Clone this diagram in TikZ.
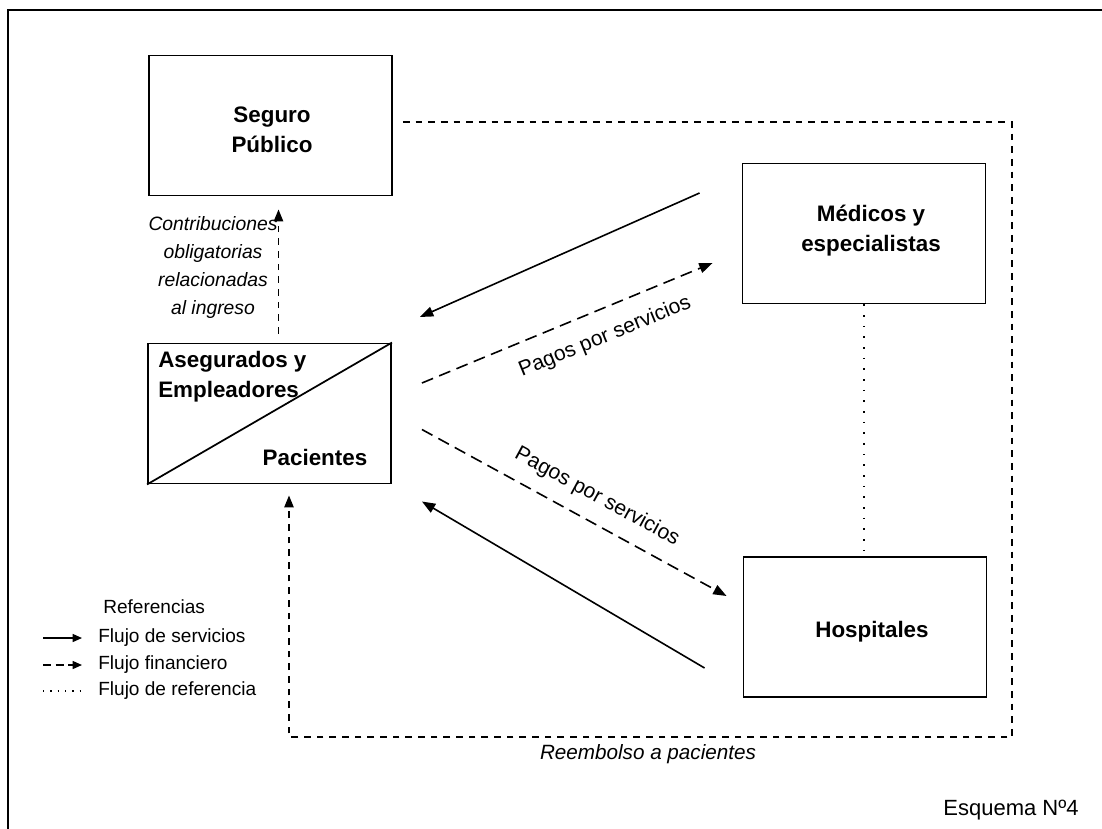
\documentclass[tikz,border=0pt]{standalone}
\usepackage{fontspec}
\setmainfont{Liberation Sans}
\usetikzlibrary{arrows.meta,calc}
\begin{document}
\begin{tikzpicture}[x=0.75pt,y=-0.75pt,
  box/.style={draw,line width=1.4pt,minimum width=182.25pt,minimum height=105pt,inner sep=0pt},
  btxt/.style={font=\fontsize{16.8}{22.5}\selectfont\bfseries,align=center,inner sep=0pt},
  itxt/.style={font=\fontsize{14.5}{21}\selectfont\itshape,align=center,inner sep=0pt},
  ltxt/.style={font=\fontsize{14.3}{18}\selectfont,inner sep=0pt,anchor=west},
  ptxt/.style={font=\fontsize{15.8}{18}\selectfont,inner sep=0pt},
  serv/.style={line width=1.2pt,-{Triangle[length=10pt,width=7.5pt]}},
  fin/.style={line width=1.2pt,dash pattern=on 9pt off 5pt,-{Triangle[length=10pt,width=7.5pt]}},
  finb/.style={line width=1.2pt,dash pattern=on 5pt off 4.5pt},
  reff/.style={line width=1.3pt,dash pattern=on 1.2pt off 6.8pt},
]
\useasboundingbox (0,0) rectangle (1102,828);
\clip (0,0) rectangle (1102,828);
\fill[white] (0,0) rectangle (1102,828);
\draw[line width=1.7pt] (8,10) rectangle (1108,860);

% boxes
\node[box] (seg)  at (270.5,125.5) {};
\node[box] (aseg) at (269.5,413.5) {};
\node[box] (med)  at (864,233.5) {};
\node[box] (hosp) at (865,627) {};

\node[btxt] (segt) at (272,130) {Seguro\\Público};
\draw[line width=1.3pt] (aseg.south west) -- (aseg.north east);
\node[btxt,align=left,anchor=west] (asegt) at (158,377) {Asegurados y\\Empleadores};
\node[btxt] (pact) at (315,457) {Pacientes};
\node[btxt] (medt) at (871,231) {Médicos y\\especialistas};
\node[btxt] (hospt) at (872,632) {Hospitales};

% contributions
\draw[finb,-{Triangle[length=9pt,width=7pt]}] ($(aseg.north)+(9,-9)$) -- ($(seg.south)+(8,13)$);
\node[itxt] (contt) at (213,267) {Contribuciones\\obligatorias\\relacionadas\\al ingreso};

% upper arrows
\draw[serv] ($(med.west)+(-42,-40.5)$) -- ($(aseg.east)+(28,-96.5)$);
\draw[fin] ($(aseg.east)+(30,-30.5)$) -- ($(med.west)+(-29,29.5)$);
\node[ptxt,rotate=22.3] (p1) at (605,337) {Pagos por servicios};

% lower arrows
\draw[fin] ($(aseg.east)+(30,16)$) -- ($(hosp.west)+(-16,-31)$);
\draw[serv] ($(hosp.west)+(-38,41)$) -- ($(aseg.east)+(30,88)$);
\node[ptxt,rotate=-28.6] (p2) at (597,497) {Pagos por servicios};

% referral
\draw[reff] (med.south) -- (med.south |- hosp.north);

% reimbursement
\coordinate (rc) at (1012,737);
\draw[finb,-{Triangle[length=9pt,width=7pt]}] ($(seg.east)+(10,-3.5)$) -| (rc) -| ($(aseg.south)+(19.5,11)$);
\node[font=\fontsize{15.5}{18}\selectfont\itshape,inner sep=0pt] (reem) at (648,754) {Reembolso a pacientes};

% legend
\node[ltxt] (ref) at (103,607) {Referencias};
\coordinate (l1a) at (43,638); \coordinate (l1b) at (82,638);
\coordinate (l2a) at (43,665); \coordinate (l2b) at (82,665);
\coordinate (l3a) at (43,691); \coordinate (l3b) at (80,691);
\draw[line width=1pt,-{Triangle[length=7pt,width=6pt]}] (l1a) -- (l1b);
\draw[line width=1pt,dash pattern=on 6pt off 3.5pt,-{Triangle[length=7pt,width=6pt]}] (l2a) -- (l2b);
\draw[line width=1pt,dash pattern=on 1pt off 4.5pt] (l3a) -- (l3b);
\node[ltxt] (lt1) at (98,638) {Flujo de servicios};
\node[ltxt] (lt2) at (98,665) {Flujo financiero};
\node[ltxt] (lt3) at (98,691) {Flujo de referencia};

\node[font=\fontsize{16.5}{18}\selectfont,inner sep=0pt] (esq) at (1011,810) {Esquema Nº4};
\end{tikzpicture}
\end{document}
